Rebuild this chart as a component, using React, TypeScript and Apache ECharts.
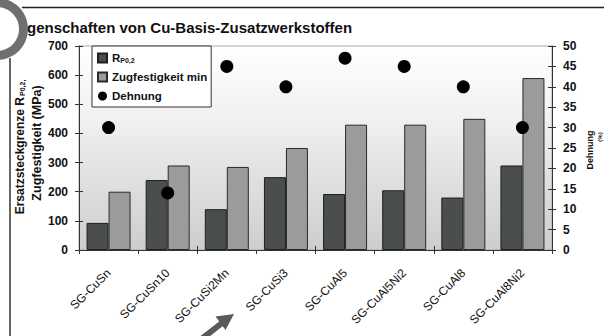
import React, { useEffect, useRef } from "react";
import * as echarts from "echarts";

const categories = [
  "SG-CuSn",
  "SG-CuSn10",
  "SG-CuSi2Mn",
  "SG-CuSi3",
  "SG-CuAl5",
  "SG-CuAl5Ni2",
  "SG-CuAl8",
  "SG-CuAl8Ni2",
];
const rp02 = [93, 240, 140, 250, 192, 205, 180, 290];
const zugfestigkeit = [200, 290, 285, 350, 430, 430, 450, 590];
const dehnung = [30, 14, 45, 40, 47, 45, 40, 30];

const leftTicks = { min: 0, max: 700, interval: 100 };
const rightTicks = { min: 0, max: 50, interval: 5 };

const FONT = "Liberation Sans";

export default function App() {
  const ref = useRef<HTMLDivElement>(null);
  useEffect(() => {
    if (!ref.current) return;
    const chart = echarts.init(ref.current, null, { renderer: "svg" });
    const axisColor = "#333";
    const tickStyle = { color: axisColor, width: 1 };
    const yLabel = { fontFamily: FONT, fontWeight: "bold", fontSize: 12, color: "#111", margin: 11 };
    const option: any = {
      animation: false,
      backgroundColor: "#ffffff",
      grid: {
        left: 79,
        right: 52,
        top: 46,
        bottom: 86,
        show: true,
        backgroundColor: new echarts.graphic.LinearGradient(0, 0, 0, 1, [
          { offset: 0, color: "#ffffff" },
          { offset: 0.35, color: "#f1f1f1" },
          { offset: 1, color: "#cdcdcd" },
        ]),
        borderColor: "#a8a8a8",
        borderWidth: 1,
      },
      legend: {
        orient: "vertical",
        left: 92,
        top: 46,
        padding: [5, 4, 4, 5],
        itemGap: 5,
        itemWidth: 9,
        itemHeight: 9,
        backgroundColor: "#ffffff",
        borderColor: "#333",
        borderWidth: 1,
        borderRadius: 0,
        data: [
          { name: "Rp0,2", icon: "rect" },
          { name: "Zugfestigkeit min", icon: "rect" },
          { name: "Dehnung", icon: "circle" },
        ],
        formatter: (name: string) =>
          name === "Rp0,2" ? "{r|R}{s|P0,2}" : name,
        textStyle: {
          fontFamily: FONT,
          fontWeight: "bold",
          fontSize: 11.5,
          lineHeight: 14,
          color: "#111",
          rich: {
            r: { fontFamily: FONT, fontWeight: "bold", fontSize: 11.5, lineHeight: 14, color: "#111" },
            s: {
              fontFamily: FONT,
              fontWeight: "bold",
              fontSize: 7,
              lineHeight: 14,
              color: "#111",
              padding: [5, 0, 0, 0],
            },
          },
        },
      },
      xAxis: [
        {
          type: "category",
          data: categories,
          axisLine: { show: true, lineStyle: { color: axisColor, width: 1 } },
          axisTick: { show: true, length: 4, lineStyle: tickStyle },
          axisLabel: {
            rotate: 45,
            interval: 0,
            margin: 21,
            fontSize: 12,
            color: "#111",
          },
          splitLine: { show: false },
        },
        {
          type: "category",
          data: categories,
          position: "bottom",
          axisLine: { show: false },
          axisTick: { show: true, inside: true, length: 4, lineStyle: tickStyle },
          axisLabel: { show: false },
          splitLine: { show: false },
        },
      ],
      yAxis: [
        {
          type: "value",
          position: "left",
          ...leftTicks,
          axisLine: { show: true, lineStyle: { color: axisColor, width: 1 } },
          axisTick: { show: true, length: 4, lineStyle: tickStyle },
          axisLabel: yLabel,
          splitLine: { show: false },
        },
        {
          type: "value",
          position: "right",
          ...rightTicks,
          axisLine: { show: true, lineStyle: { color: axisColor, width: 1 } },
          axisTick: { show: true, length: 4, lineStyle: tickStyle },
          axisLabel: yLabel,
          splitLine: { show: false },
        },
        {
          type: "value",
          position: "left",
          ...leftTicks,
          axisLine: { show: false },
          axisTick: { show: true, inside: true, length: 4, lineStyle: tickStyle },
          axisLabel: { show: false },
          splitLine: { show: false },
        },
        {
          type: "value",
          position: "right",
          ...rightTicks,
          axisLine: { show: false },
          axisTick: { show: true, inside: true, length: 4, lineStyle: tickStyle },
          axisLabel: { show: false },
          splitLine: { show: false },
        },
      ],
      series: [
        {
          name: "Rp0,2",
          type: "bar",
          data: rp02,
          xAxisIndex: 0,
          yAxisIndex: 0,
          barWidth: 22,
          barGap: "0%",
          itemStyle: { color: "#4b4e4f", borderColor: "#1e1e1e", borderWidth: 1 },
          z: 2,
        },
        {
          name: "Zugfestigkeit min",
          type: "bar",
          data: zugfestigkeit,
          xAxisIndex: 0,
          yAxisIndex: 0,
          barWidth: 22,
          barGap: "0%",
          itemStyle: { color: "#9b9b9b", borderColor: "#2a2a2a", borderWidth: 1 },
          z: 2,
        },
        {
          name: "Dehnung",
          type: "scatter",
          data: dehnung,
          xAxisIndex: 0,
          yAxisIndex: 1,
          symbol: "circle",
          symbolSize: 13,
          itemStyle: { color: "#000000", opacity: 1 },
          z: 5,
        },
      ],
      graphic: [
        {
          type: "line",
          shape: { x1: 22, y1: 7.5, x2: 604, y2: 7.5 },
          style: { stroke: "#222", lineWidth: 1.5 },
        },
        {
          type: "line",
          shape: { x1: 10, y1: 58, x2: 10, y2: 336 },
          style: { stroke: "#333", lineWidth: 1.5 },
        },
        {
          type: "ring",
          shape: { cx: -3, cy: 29, r: 31, r0: 22 },
          style: { fill: "#6f6f6f" },
          z: 10,
        },
        {
          type: "text",
          x: 27,
          y: 27,
          style: {
            text: "genschaften von Cu-Basis-Zusatzwerkstoffen",
            fontFamily: FONT,
            fontWeight: "bold",
            fontSize: 15,
            fill: "#111",
            textAlign: "left",
            textVerticalAlign: "middle",
          },
        },
        {
          type: "text",
          x: 20,
          y: 147,
          rotation: Math.PI / 2,
          style: {
            text: "{a|Ersatzsteckgrenze R}{b|P0,2,}",
            textAlign: "center",
            textVerticalAlign: "middle",
            fill: "#111",
            rich: {
              a: { fontFamily: FONT, fontWeight: "bold", fontSize: 12, fill: "#111" },
              b: {
                fontFamily: FONT,
                fontWeight: "bold",
                fontSize: 7,
                fill: "#111",
                padding: [5, 0, 0, 1],
              },
            },
          },
        },
        {
          type: "text",
          x: 37,
          y: 143,
          rotation: Math.PI / 2,
          style: {
            text: "Zugfestigkeit (MPa)",
            fontFamily: FONT,
            fontWeight: "bold",
            fontSize: 12.5,
            fill: "#111",
            textAlign: "center",
            textVerticalAlign: "middle",
          },
        },
        {
          type: "text",
          x: 590,
          y: 150,
          rotation: Math.PI / 2,
          style: {
            text: "Dehnung",
            fontFamily: FONT,
            fontWeight: "bold",
            fontSize: 9,
            fill: "#111",
            textAlign: "center",
            textVerticalAlign: "middle",
          },
        },
        {
          type: "text",
          x: 600,
          y: 137,
          rotation: Math.PI / 2,
          style: {
            text: "(%)",
            fontFamily: FONT,
            fontWeight: "bold",
            fontSize: 6,
            fill: "#111",
            textAlign: "center",
            textVerticalAlign: "middle",
          },
        },
        {
          type: "line",
          shape: { x1: 190, y1: 348, x2: 222, y2: 323 },
          style: { stroke: "#5a5a5a", lineWidth: 6 },
        },
        {
          type: "polygon",
          shape: {
            points: [
              [234, 314],
              [225.5, 330],
              [215.5, 316.5],
            ],
          },
          style: { fill: "#5a5a5a" },
        },
      ],
    };
    chart.setOption(option);
    return () => chart.dispose();
  }, []);
  return (
    <div
      ref={ref}
      style={{ position: "fixed", left: 0, top: 0, width: 604, height: 336 }}
    />
  );
}
